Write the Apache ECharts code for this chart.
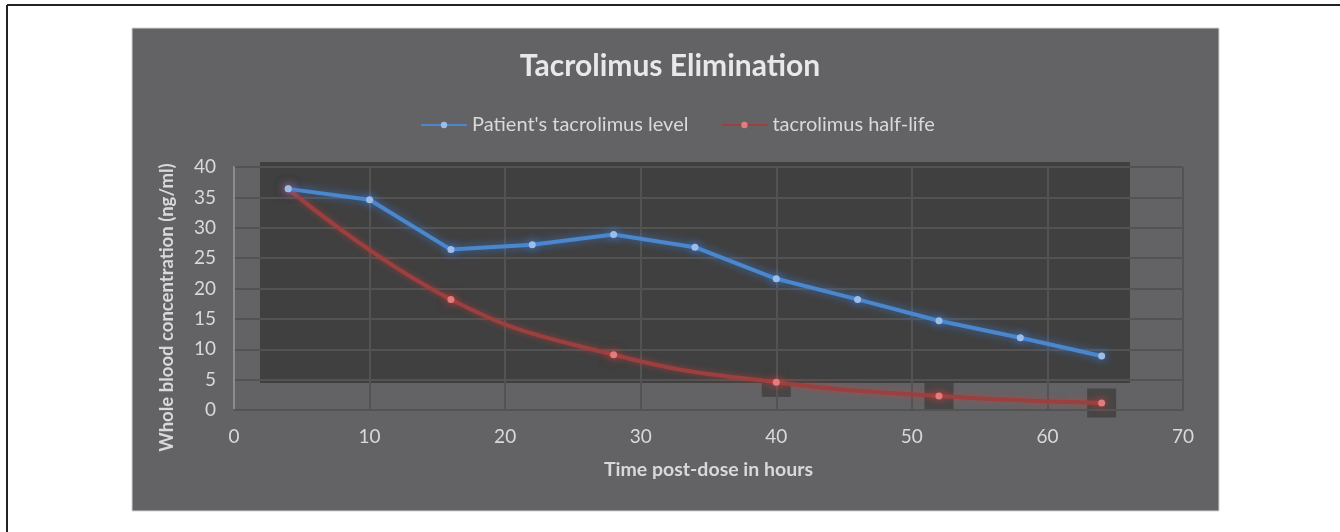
<!DOCTYPE html>
<html>
<head>
<meta charset="utf-8">
<script src="https://cdn.jsdelivr.net/npm/echarts@6/dist/echarts.min.js"></script>
<style>
  html, body { margin: 0; padding: 0; background: #fff; }
  #chart { width: 1340px; height: 532px; }
</style>
</head>
<body>
<div id="chart"></div>
<script>
// hours post-dose
var patientHours = [4, 10, 16, 22, 28, 34, 40, 46, 52, 58, 64];
var patientLevel = [36.4, 34.6, 26.4, 27.2, 28.9, 26.8, 21.6, 18.2, 14.7, 11.9, 8.9];

var halfLifeHours = [4, 16, 28, 40, 52, 64];
var halfLifeLevel = [36.4, 18.2, 9.1, 4.55, 2.3, 1.15];

var xTicks = [0, 10, 20, 30, 40, 50, 60, 70];
var yTicks = [0, 5, 10, 15, 20, 25, 30, 35, 40];

function pairs(xs, ys) {
  return xs.map(function(x, i) { return [x, ys[i]]; });
}

var labelColor = '#d9d9d9';
var gridColor = '#535353';
var font = 'Lato, "Open Sans", sans-serif';

var chart = echarts.init(document.getElementById('chart'));

var option = {
  backgroundColor: '#ffffff',
  animation: false,
  textStyle: { fontFamily: font },
  graphic: [
    // page frame (left + top only)
    { type: 'line', z: -20, shape: { x1: 7, y1: 5, x2: 7, y2: 532 }, style: { stroke: '#222', lineWidth: 2 } },
    { type: 'line', z: -20, shape: { x1: 7, y1: 5, x2: 1340, y2: 5 }, style: { stroke: '#222', lineWidth: 2 } },
    // chart panel
    { type: 'rect', z: -20, shape: { x: 132, y: 28, width: 1087, height: 483 },
      style: { fill: '#636365', stroke: '#d4d4d4', lineWidth: 1 } },
    // shifted plot-area fill
    { type: 'rect', z: -15, shape: { x: 260, y: 162, width: 870, height: 221 },
      style: { fill: '#404040' } }
  ],
  title: {
    text: 'Tacrolimus Elimination',
    left: 'center',
    top: 46,
    textStyle: { color: '#e8e8e8', fontSize: 30, fontWeight: 'bold', fontFamily: font }
  },
  legend: {
    top: 110,
    left: 415,
    itemWidth: 46,
    itemHeight: 8,
    itemGap: 32,
    textStyle: { color: labelColor, fontSize: 20, fontFamily: font },
    data: ["Patient's tacrolimus level", 'tacrolimus half-life']
  },
  grid: { left: 234, right: 157, top: 167, bottom: 122 },
  xAxis: {
    type: 'value',
    min: 0,
    max: 70,
    interval: 10,
    name: 'Time post-dose in hours',
    nameLocation: 'middle',
    nameGap: 50,
    nameTextStyle: { color: labelColor, fontSize: 19.5, fontWeight: 'bold' },
    axisLine: { show: true, lineStyle: { color: gridColor, width: 2 } },
    axisTick: { show: false },
    axisLabel: { color: labelColor, fontSize: 19, margin: 17,
      formatter: function(v) { return xTicks.indexOf(v) >= 0 ? String(v) : ''; } },
    splitLine: { show: true, lineStyle: { color: gridColor, width: 2 } }
  },
  yAxis: {
    type: 'value',
    min: 0,
    max: 40,
    interval: 5,
    name: 'Whole blood concentration (ng/ml)',
    nameLocation: 'middle',
    nameGap: 57,
    nameTextStyle: { color: labelColor, fontSize: 18.5, fontWeight: 'bold', padding: [0, 38, 0, 0] },
    axisLine: { show: true, lineStyle: { color: '#8c8c8c', width: 2 } },
    axisTick: { show: false },
    axisLabel: { color: labelColor, fontSize: 19, margin: 18,
      formatter: function(v) { return yTicks.indexOf(v) >= 0 ? String(v) : ''; } },
    splitLine: { show: true, lineStyle: { color: gridColor, width: 2 } }
  },
  series: [
    {
      // dark boxes behind the half-life markers
      type: 'scatter',
      name: 'boxes',
      z: -5,
      silent: true,
      symbol: 'rect',
      symbolSize: 29,
      itemStyle: { color: '#3e3e3e' },
      data: pairs(halfLifeHours, halfLifeLevel)
    },
    {
      name: 'tacrolimus half-life',
      type: 'line',
      smooth: 0.45,
      symbol: 'circle',
      symbolSize: 7,
      data: pairs(halfLifeHours, halfLifeLevel),
      lineStyle: { color: '#9c3f3f', width: 4, shadowColor: 'rgba(220,60,60,0.5)', shadowBlur: 6 },
      itemStyle: { color: '#e07d7d', borderWidth: 0, shadowColor: 'rgba(255,60,60,0.9)', shadowBlur: 10 }
    },
    {
      name: "Patient's tacrolimus level",
      type: 'line',
      symbol: 'circle',
      symbolSize: 7,
      data: pairs(patientHours, patientLevel),
      lineStyle: { color: '#4a87cc', width: 4, shadowColor: 'rgba(60,130,230,0.7)', shadowBlur: 8 },
      itemStyle: { color: '#9cbde6', borderWidth: 0, shadowColor: 'rgba(60,140,255,0.9)', shadowBlur: 10 }
    }
  ]
};

chart.setOption(option);
</script>
</body>
</html>
